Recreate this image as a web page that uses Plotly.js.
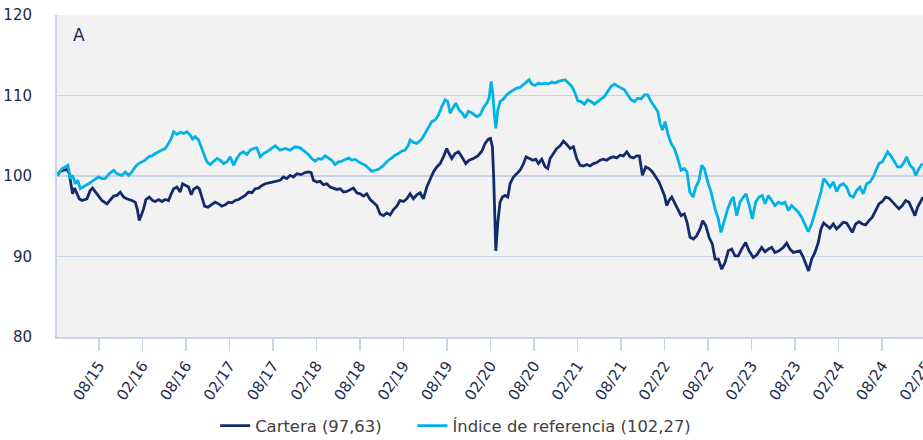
<!DOCTYPE html>
<html>
<head>
<meta charset="utf-8">
<script src="https://cdn.plot.ly/plotly-3.0.1.min.js"></script>
<style>
html,body{margin:0;padding:0;overflow:hidden;background:#fff;}
#chart{width:940px;height:440px;}
</style>
</head>
<body>
<div id="chart"></div>
<script>
// Time expressed as decimal years
const carteraX = [2015.101,2015.135,2015.174,2015.212,2015.239,2015.262,2015.277,2015.300,2015.327,2015.354,2015.384,2015.442,2015.480,2015.507,2015.557,2015.614,2015.672,2015.710,2015.748,2015.787,2015.825,2015.863,2015.901,2015.959,2015.997,2016.020,2016.043,2016.066,2016.093,2016.120,2016.158,2016.196,2016.227,2016.265,2016.304,2016.342,2016.380,2016.411,2016.438,2016.476,2016.514,2016.541,2016.579,2016.610,2016.641,2016.667,2016.706,2016.733,2016.763,2016.794,2016.832,2016.870,2016.916,2016.955,2016.993,2017.031,2017.070,2017.108,2017.146,2017.185,2017.223,2017.261,2017.299,2017.338,2017.376,2017.414,2017.453,2017.491,2017.548,
2017.605,2017.662,2017.701,2017.739,2017.777,2017.816,2017.854,2017.904,2017.950,2017.988,2018.019,2018.045,2018.084,2018.122,2018.160,2018.199,2018.237,2018.275,2018.314,2018.352,2018.390,2018.428,2018.467,2018.505,2018.543,2018.582,2018.620,2018.658,2018.697,2018.735,2018.773,2018.811,2018.850,2018.888,2018.926,2018.965,2019.003,2019.041,2019.080,2019.118,2019.156,2019.194,2019.233,2019.271,2019.309,2019.348,2019.386,2019.424,2019.463,2019.501,2019.539,2019.577,2019.604,2019.635,2019.673,2019.712,2019.750,2019.796,2019.834,2019.884,2019.934,2019.980,2020.018,2020.056,2020.079,2020.102,2020.117,2020.133,
2020.141,2020.164,2020.190,2020.217,2020.248,2020.279,2020.305,2020.344,2020.382,2020.420,2020.459,2020.489,2020.528,2020.566,2020.600,2020.631,2020.669,2020.708,2020.738,2020.765,2020.803,2020.842,2020.880,2020.918,2020.956,2020.995,2021.033,2021.071,2021.110,2021.148,2021.186,2021.225,2021.263,2021.301,2021.339,2021.378,2021.416,2021.454,2021.493,2021.531,2021.569,2021.608,2021.646,2021.684,2021.722,2021.761,2021.791,2021.826,2021.864,2021.902,2021.941,2021.979,2022.017,2022.048,2022.079,2022.105,2022.132,2022.163,2022.193,2022.232,2022.270,2022.308,2022.339,2022.373,2022.412,2022.450,2022.488,2022.519,2022.554,2022.592,2022.630,
2022.661,2022.698,2022.737,2022.775,2022.813,2022.852,2022.890,2022.928,2022.966,2023.012,2023.051,2023.100,2023.139,2023.196,2023.235,2023.273,2023.311,2023.349,2023.395,2023.445,2023.484,2023.522,2023.560,2023.598,2023.637,2023.675,2023.713,2023.736,2023.771,2023.809,2023.847,2023.878,2023.909,2023.943,2023.981,2024.020,2024.058,2024.096,2024.135,2024.173,2024.211,2024.238,2024.277,2024.315,2024.353,2024.391,2024.430,2024.468,2024.506,2024.544,2024.583,2024.621,2024.659,2024.698,2024.736,2024.774,2024.812,2024.851,2024.889,2024.927,2024.958,2024.989,2025.019,2025.050];
const carteraY = [100.08,100.58,100.71,100.83,100.29,98.83,97.79,98.5,97.92,97.17,96.96,97.17,98.21,98.5,97.79,96.96,96.54,96.96,97.5,97.58,98.0,97.38,97.17,96.96,96.75,95.92,94.46,95.08,95.92,97.08,97.38,96.96,96.83,97.08,96.83,97.08,96.96,97.79,98.42,98.63,98.0,99.04,98.83,98.63,97.67,98.33,98.63,98.42,97.38,96.25,96.13,96.42,96.75,96.54,96.25,96.42,96.75,96.67,96.96,97.08,97.38,97.58,98.0,97.92,98.42,98.5,98.83,99.04,99.17,
99.33,99.46,99.88,99.67,100.08,99.88,100.29,100.17,100.42,100.5,100.42,99.46,99.25,99.33,98.92,99.04,98.63,98.5,98.33,98.42,98.0,98.08,98.33,98.5,97.92,97.79,97.5,97.79,97.08,96.67,96.33,95.29,95.08,95.42,95.17,95.83,96.25,96.96,96.83,97.17,97.79,97.17,97.67,97.92,97.17,98.63,99.67,100.5,101.13,101.54,102.38,103.42,102.79,102.17,102.79,103.0,102.38,101.54,101.96,102.17,102.5,103.08,104.04,104.58,104.67,103.63,99.67,93.42,
90.71,94.25,96.75,97.38,97.58,97.38,99.04,99.88,100.29,100.71,101.54,102.38,102.17,101.96,102.08,101.54,102.08,101.13,100.92,102.17,102.79,103.42,103.75,104.33,103.92,103.42,103.63,102.17,101.33,101.25,101.42,101.25,101.54,101.67,101.96,102.08,101.96,102.25,102.38,102.25,102.58,102.5,103.0,102.38,102.25,102.5,102.5,100.08,101.13,100.92,100.5,99.88,99.25,98.42,97.58,96.33,96.96,97.38,96.75,95.92,95.08,95.29,94.25,92.38,92.17,92.58,93.42,94.46,93.83,92.38,91.54,
89.67,89.67,88.42,89.25,90.71,90.92,90.08,90.08,90.92,91.75,90.71,89.88,90.17,91.13,90.58,90.92,91.13,90.5,90.71,91.13,91.67,90.92,90.5,90.58,90.71,89.88,88.83,88.21,89.67,90.5,91.75,93.42,94.17,93.83,93.5,94.04,93.42,93.83,94.25,94.17,93.5,93.0,94.04,94.33,94.04,93.92,94.46,94.88,95.71,96.54,96.83,97.38,97.25,96.75,96.33,95.92,96.33,96.96,96.75,95.92,95.08,96.13,96.75,97.38];

const indiceX = [2015.101,2015.155,2015.193,2015.224,2015.250,2015.277,2015.308,2015.338,2015.365,2015.404,2015.461,2015.518,2015.576,2015.614,2015.652,2015.698,2015.748,2015.787,2015.844,2015.882,2015.921,2015.959,2015.997,2016.036,2016.074,2016.112,2016.150,2016.189,2016.227,2016.265,2016.304,2016.342,2016.380,2016.411,2016.438,2016.476,2016.514,2016.553,2016.591,2016.629,2016.656,2016.687,2016.725,2016.763,2016.794,2016.821,2016.859,2016.897,2016.936,2016.974,2017.012,2017.050,2017.089,2017.127,2017.165,2017.204,2017.242,2017.280,2017.318,2017.357,2017.395,2017.433,2017.472,2017.510,2017.560,
2017.605,2017.662,2017.720,2017.777,2017.835,2017.892,2017.950,2017.988,2018.026,2018.065,2018.103,2018.141,2018.179,2018.218,2018.256,2018.294,2018.333,2018.371,2018.409,2018.448,2018.486,2018.524,2018.563,2018.601,2018.639,2018.677,2018.716,2018.754,2018.792,2018.831,2018.869,2018.907,2018.946,2018.984,2019.022,2019.060,2019.099,2019.137,2019.156,2019.194,2019.233,2019.290,2019.328,2019.367,2019.405,2019.443,2019.482,2019.520,2019.558,2019.589,2019.616,2019.646,2019.681,2019.719,2019.757,2019.788,2019.826,2019.872,2019.922,2019.960,2019.999,2020.037,2020.064,2020.087,2020.106,2020.125,
2020.141,2020.164,2020.190,2020.229,2020.267,2020.305,2020.344,2020.382,2020.420,2020.459,2020.497,2020.524,2020.554,2020.593,2020.631,2020.669,2020.708,2020.746,2020.784,2020.822,2020.861,2020.899,2020.937,2020.976,2021.014,2021.052,2021.083,2021.121,2021.159,2021.198,2021.236,2021.274,2021.313,2021.351,2021.389,2021.427,2021.466,2021.504,2021.542,2021.581,2021.619,2021.657,2021.696,2021.734,2021.772,2021.811,2021.849,2021.887,2021.925,2021.964,2022.002,2022.029,2022.056,2022.086,2022.117,2022.155,2022.193,2022.232,2022.270,2022.308,2022.339,2022.370,2022.408,2022.439,2022.477,2022.508,2022.538,2022.577,2022.615,
2022.661,2022.698,2022.729,2022.767,2022.806,2022.844,2022.871,2022.909,2022.947,2022.986,2023.016,2023.054,2023.089,2023.127,2023.166,2023.204,2023.235,2023.273,2023.311,2023.349,2023.388,2023.426,2023.464,2023.503,2023.541,2023.579,2023.618,2023.656,2023.694,2023.732,2023.771,2023.809,2023.847,2023.878,2023.909,2023.943,2023.981,2024.020,2024.058,2024.096,2024.135,2024.173,2024.211,2024.250,2024.288,2024.326,2024.364,2024.403,2024.441,2024.479,2024.510,2024.544,2024.583,2024.613,2024.644,2024.682,2024.721,2024.759,2024.797,2024.836,2024.862,2024.901,2024.939,2024.966,2025.004,2025.042];
const indiceY = [100.0,100.92,101.13,101.33,99.67,100.08,99.04,99.46,98.42,98.63,99.04,99.46,99.88,99.67,99.67,100.29,100.71,100.29,100.08,100.5,100.08,100.5,101.13,101.54,101.75,101.96,102.38,102.5,102.79,103.0,103.21,103.42,104.04,104.67,105.5,105.17,105.42,105.29,105.5,105.08,104.58,104.88,104.46,103.42,102.38,101.75,101.42,101.75,102.17,101.96,101.54,101.75,102.38,101.33,102.17,102.79,103.0,102.67,103.21,103.42,103.5,102.38,102.79,103.0,103.42,
103.75,103.21,103.42,103.21,103.63,103.5,103.0,102.67,102.17,101.83,102.17,102.08,102.5,102.17,101.96,101.42,101.75,101.83,102.08,102.25,101.96,102.08,101.75,101.54,101.33,101.0,100.58,100.71,100.83,101.13,101.54,101.96,102.25,102.58,102.79,103.08,103.21,103.83,104.46,104.17,104.04,104.58,105.29,106.13,106.75,106.96,107.58,108.63,109.46,109.25,107.79,108.42,109.04,108.21,107.79,107.25,108.04,107.79,107.38,107.58,108.5,109.04,109.67,111.75,110.29,107.58,
105.92,108.21,109.25,109.58,110.08,110.42,110.71,110.92,111.0,111.33,111.75,111.96,111.42,111.25,111.54,111.42,111.54,111.42,111.67,111.54,111.75,111.83,111.96,111.54,111.13,110.29,109.33,109.25,108.92,109.46,109.25,108.92,109.25,109.46,109.88,110.5,111.13,111.42,111.13,110.92,110.71,110.08,109.46,109.25,109.67,109.58,110.08,110.08,109.25,108.63,108.0,106.54,105.71,106.75,105.29,104.04,103.42,102.17,100.71,100.92,100.5,98.0,97.38,98.63,99.46,101.33,100.92,99.25,98.0,
95.92,94.67,93.0,94.46,95.92,96.96,97.38,95.08,96.75,97.38,97.79,96.33,94.67,96.75,97.38,97.58,96.54,97.58,96.96,96.33,96.75,96.54,96.75,95.71,96.33,95.92,95.5,94.88,94.04,93.08,94.04,95.5,96.75,98.0,99.67,99.25,98.63,99.25,98.08,98.83,99.04,98.63,97.58,97.38,98.21,98.63,97.79,99.04,99.25,99.88,100.71,101.54,101.75,102.38,103.0,102.5,101.75,101.13,101.13,101.75,102.38,101.33,100.92,100.08,100.92,101.54];

const seriesNames = ['Cartera (97,63)', 'Índice de referencia (102,27)'];
const tickYears = [2015.58,2016.08,2016.58,2017.08,2017.58,2018.08,2018.58,2019.08,2019.58,2020.08,2020.58,2021.08,2021.58,2022.08,2022.58,2023.08,2023.58,2024.08,2024.58,2025.08];
const tickLabels = ['08/15','02/16','08/16','02/17','08/17','02/18','08/18','02/19','08/19','02/20','08/20','02/21','08/21','02/22','08/22','02/23','08/23','02/24','08/24','02/25'];
const yTicks = [80,90,100,110,120];

const FONT = '"DejaVu Sans", Verdana, sans-serif';
const AXIS = '#c8d4e4';
const legendFont = {family: FONT, size: 16.4, color: '#404040'};

const traces = [
  {x: carteraX, y: carteraY, name: seriesNames[0], type: 'scatter', mode: 'lines',
   legend: 'legend', line: {color: '#142B6B', width: 2.8}},
  {x: indiceX, y: indiceY, name: seriesNames[1], type: 'scatter', mode: 'lines',
   legend: 'legend2', line: {color: '#00B2E6', width: 2.8}}
];

const layout = {
  width: 940, height: 440,
  margin: {l: 57, r: 14, t: 15, b: 103, autoexpand: false},
  paper_bgcolor: '#ffffff',
  plot_bgcolor: '#f2f2f2',
  font: {family: FONT, color: '#1b2a4e'},
  showlegend: true,
  legend: {orientation: 'h', x: 0.182, xanchor: 'left', y: -0.276, yanchor: 'middle',
           font: legendFont, bgcolor: 'rgba(0,0,0,0)'},
  legend2: {orientation: 'h', x: 0.409, xanchor: 'left', y: -0.276, yanchor: 'middle',
           font: legendFont, bgcolor: 'rgba(0,0,0,0)'},
  xaxis: {type: 'linear', range: [2015.098, 2025.085], tickvals: tickYears, ticktext: tickLabels,
          tickangle: -56, ticks: 'outside', ticklen: 12, tickwidth: 1.5, tickcolor: AXIS,
          automargin: false,
          showgrid: false, zeroline: false, showline: true, linecolor: AXIS, linewidth: 2,
          tickfont: {family: FONT, size: 15, color: '#1b2a4e'}},
  yaxis: {range: [80, 120], tickvals: yTicks, showgrid: true, gridcolor: AXIS, gridwidth: 1.5,
          automargin: false,
          zeroline: false, showline: true, linecolor: AXIS, linewidth: 2, ticks: '',
          ticklabelstandoff: 20,
          tickfont: {family: FONT, size: 15, color: '#1b2a4e'}},
  annotations: [{text: 'A', xref: 'paper', yref: 'paper', x: 0.016, y: 0.975, xanchor: 'left', yanchor: 'top',
                 showarrow: false, font: {family: FONT, size: 17, color: '#1b2a4e'}}]
};

Plotly.newPlot('chart', traces, layout, {displayModeBar: false, staticPlot: true});
</script>
</body>
</html>
